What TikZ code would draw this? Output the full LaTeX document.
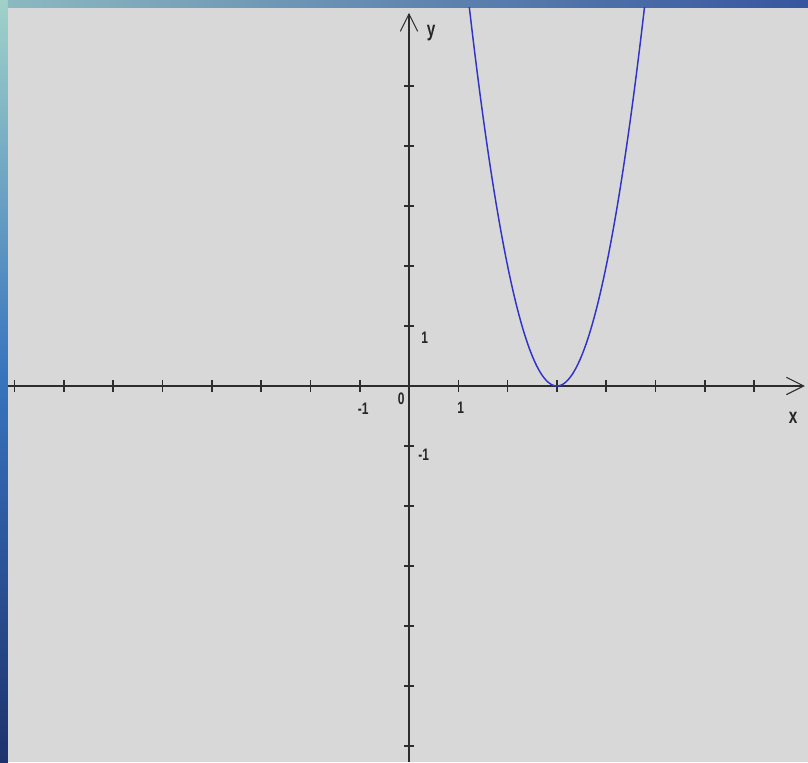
\documentclass[tikz,border=0pt]{standalone}
\usepackage{fontspec}
\newfontfamily\narrowsans[FakeStretch=0.72]{Liberation Sans}
\usetikzlibrary{arrows.meta}
\definecolor{panelgray}{RGB}{216,216,216}
\definecolor{axisgray}{RGB}{45,45,45}
\definecolor{curveblue}{RGB}{50,50,200}
\definecolor{seagreen}{RGB}{160,210,200}
\definecolor{seablue}{RGB}{55,115,190}
\definecolor{seanavy}{RGB}{30,50,110}
\definecolor{seatop}{RGB}{55,85,160}
\tikzset{
  axis/.style={draw=axisgray,line width=1.5pt,-{Straight Barb[length=13pt,width=13pt,line width=0.8pt]}},
  tick/.style={draw=axisgray,line width=1.2pt},
  lbl/.style={font=\narrowsans\fontsize{12.5}{12.5}\selectfont\bfseries,inner sep=0pt,text=black!85}
}

\begin{document}
\begin{tikzpicture}[x=36.975pt,y=45pt]
\useasboundingbox (-8.296,-6.267) rectangle (8.093,6.433);
% background strips and panel
\shade[top color=seagreen,bottom color=seanavy,middle color=seablue] (-8.296,-6.267) rectangle (-8.134,6.433);
\shade[left color=seagreen!80!seatop,right color=seatop] (-8.134,6.3) rectangle (8.093,6.433);
\fill[panelgray] (-8.134,-6.267) rectangle (8.093,6.3);
% axes
\coordinate (xl) at (-8.134,0); \coordinate (xr) at (8.03,0);
\coordinate (yb) at (0,-6.267); \coordinate (yt) at (0,6.22);
\draw[axis] (xl)--(xr);
\draw[axis] (yb)--(yt);
\foreach \i in {-8,...,-1,1,2,...,7} \draw[tick] (\i,-0.1)--(\i,0.1);
\foreach \j in {-6,...,-1,1,2,...,5} \draw[tick] (-0.1,\j)--(0.1,\j);
% labels
\node[lbl,font=\narrowsans\fontsize{16}{16}\selectfont\bfseries] (ylab) at (0.45,5.88) {y};
\node[lbl,font=\narrowsans\fontsize{16}{16}\selectfont\bfseries] (xlab) at (7.79,-0.53) {x};
\node[lbl] (yone) at (0.32,0.8) {1};
\node[lbl] (ymone) at (0.3,-1.15) {-1};
\node[lbl] (xmone) at (-0.93,-0.38) {-1};
\node[lbl] (zero) at (-0.16,-0.22) {0};
\node[lbl] (xone) at (1.05,-0.37) {1};
% parabola
\begin{scope}
\clip (-8.134,-6.267) rectangle (8.093,6.3);
\draw[curveblue,line width=1.1pt,domain=1.2:4.8,samples=120] plot (\x,{2*(\x-3)^2});
\end{scope}
\end{tikzpicture}
\end{document}
